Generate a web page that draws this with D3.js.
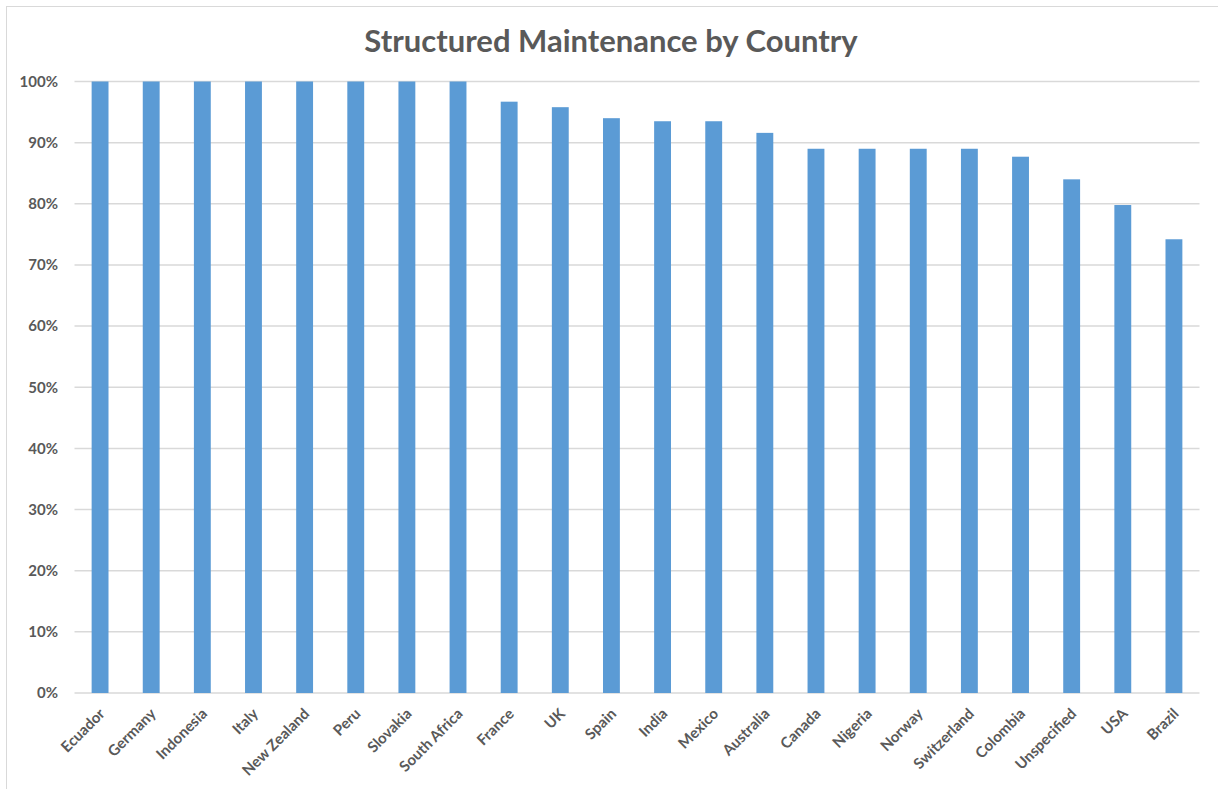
<!DOCTYPE html>
<html><head><meta charset="utf-8">
<script src="https://cdn.jsdelivr.net/npm/d3@7"></script>
<style>body{margin:0;background:#fff;} svg{display:block;}</style>
</head><body>
<script>
const categories = ["Ecuador","Germany","Indonesia","Italy","New Zealand","Peru","Slovakia","South Africa","France","UK","Spain","India","Mexico","Australia","Canada","Nigeria","Norway","Switzerland","Colombia","Unspecified","USA","Brazil"];
const values = [1,1,1,1,1,1,1,1,0.967,0.958,0.94,0.935,0.935,0.916,0.89,0.89,0.89,0.89,0.877,0.84,0.798,0.742];
const yTicks = [0,0.1,0.2,0.3,0.4,0.5,0.6,0.7,0.8,0.9,1];
const title = "Structured Maintenance by Country";

const W = 1218, H = 789;
const font = "Lato, 'Open Sans', sans-serif";
const svg = d3.select("body").append("svg").attr("width", W).attr("height", H);
svg.append("rect").attr("x", 6.5).attr("y", 6.5).attr("width", W + 10).attr("height", H + 10)
  .attr("fill", "#fff").attr("stroke", "#d9d9d9").attr("stroke-width", 1);

const x = d3.scaleBand().domain(categories).range([74.5, 1199.5]).paddingInner(0.67).paddingOuter(0.335);
const y = d3.scaleLinear().domain([0, 1]).range([693, 81.5]);

// gridlines
svg.append("g").selectAll("line").data(yTicks).join("line")
  .attr("x1", 74.5).attr("x2", 1199.5)
  .attr("y1", d => y(d)).attr("y2", d => y(d))
  .attr("stroke", "#d9d9d9").attr("stroke-width", 1.5);

// y labels
const yAxis = d3.axisLeft(y).tickValues(yTicks).tickFormat(d3.format(".0%")).tickSize(0).tickPadding(0);
const ya = svg.append("g").attr("transform", "translate(58,0)").call(yAxis);
ya.select(".domain").remove();
ya.selectAll("text").attr("font-family", font).attr("font-weight", "bold")
  .attr("font-size", 15).attr("fill", "#595959");

// bars
svg.append("g").selectAll("rect").data(categories).join("rect")
  .attr("x", d => x(d)).attr("width", x.bandwidth())
  .attr("y", (d, i) => y(values[i])).attr("height", (d, i) => y(0) - y(values[i]))
  .attr("fill", "#5b9bd5");

// x labels
const xAxis = d3.axisBottom(x).tickSize(0).tickPadding(0);
const xa = svg.append("g").call(xAxis);
xa.select(".domain").remove();
xa.selectAll(".tick").attr("transform", d => `translate(${x(d) + x.bandwidth() / 2 + 2},711)`);
xa.selectAll("text").attr("font-family", font).attr("font-weight", "bold")
  .attr("font-size", 15).attr("fill", "#595959")
  .attr("text-anchor", "end").attr("y", 0).attr("dy", "0.35em")
  .attr("transform", "rotate(-45)");

svg.append("text").attr("x", 611).attr("y", 52).attr("text-anchor", "middle")
  .attr("font-family", font).attr("font-weight", "bold").attr("font-size", 31)
  .attr("fill", "#595959").text(title);
</script>
</body></html>
